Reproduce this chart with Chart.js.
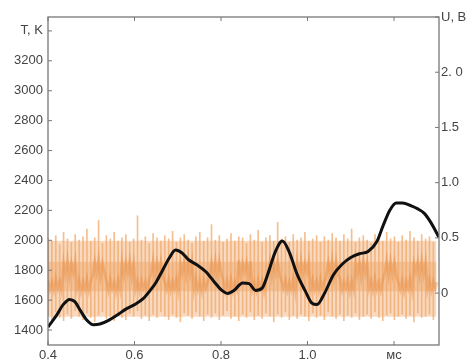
<!DOCTYPE html>
<html>
<head>
<meta charset="utf-8">
<script src="https://cdn.jsdelivr.net/npm/chart.js@4.4.1/dist/chart.umd.min.js"></script>
<style>
  html, body { margin: 0; padding: 0; background: #fff; }
  #wrap { width: 474px; height: 364px; position: relative; }
</style>
</head>
<body>
<div id="wrap"><canvas id="c" width="474" height="364"></canvas></div>
<script>
// ---- Data ----
// Temperature curve T (K) vs time (ms)
const tTime = [0.400,0.420,0.435,0.450,0.462,0.475,0.490,0.505,0.520,0.540,0.560,0.580,0.600,0.620,0.635,0.650,0.665,0.680,0.695,0.710,0.725,0.745,0.765,0.785,0.800,0.815,0.830,0.850,0.865,0.880,0.895,0.910,0.925,0.942,0.958,0.975,0.995,1.010,1.022,1.040,1.060,1.080,1.100,1.120,1.140,1.160,1.175,1.190,1.205,1.220,1.240,1.255,1.270,1.285,1.304];
const tValue = [1420,1500,1570,1605,1590,1530,1465,1435,1440,1465,1500,1540,1570,1610,1660,1720,1800,1880,1935,1915,1870,1835,1790,1720,1670,1645,1665,1715,1710,1665,1680,1790,1920,1995,1920,1780,1660,1580,1570,1650,1770,1840,1885,1910,1925,1990,2100,2200,2250,2250,2230,2210,2180,2120,2020];

// Voltage signal U (V): sampled signal, start time and sample interval (ms)
const uStart = 0.4;
const uStep = 0.0045;
// spike maxima and minima (one pair per spike, every second sample)
const uPeaks = [0.50,0.47,0.52,0.44,0.55,0.49,0.46,0.53,0.48,0.51,
 0.58,0.47,0.50,0.66,0.45,0.52,0.49,0.55,0.47,0.50,
 0.53,0.46,0.49,0.70,0.48,0.51,0.45,0.54,0.50,0.47,
 0.52,0.49,0.56,0.46,0.50,0.53,0.48,0.45,0.51,0.55,
 0.47,0.50,0.62,0.48,0.52,0.46,0.49,0.54,0.47,0.51,
 0.50,0.45,0.53,0.48,0.57,0.46,0.50,0.52,0.47,0.64,
 0.49,0.51,0.46,0.53,0.48,0.50,0.55,0.47,0.49,0.52,
 0.46,0.51,0.48,0.54,0.50,0.47,0.53,0.49,0.58,0.46,
 0.50,0.52,0.48,0.45,0.53,0.50,0.47,0.55,0.49,0.51,
 0.46,0.52,0.48,0.56,0.50,0.47,0.53,0.49,0.51,0.46];
const uDips = [-0.20,-0.24,-0.17,-0.22,-0.25,-0.19,-0.23,-0.16,-0.21,-0.24,
 -0.18,-0.22,-0.26,-0.20,-0.17,-0.23,-0.21,-0.25,-0.19,-0.22,
 -0.24,-0.18,-0.21,-0.16,-0.23,-0.20,-0.25,-0.19,-0.22,-0.17,
 -0.21,-0.24,-0.19,-0.22,-0.26,-0.18,-0.20,-0.23,-0.17,-0.21,
 -0.25,-0.19,-0.22,-0.18,-0.24,-0.20,-0.16,-0.23,-0.21,-0.25,
 -0.19,-0.22,-0.17,-0.24,-0.20,-0.23,-0.18,-0.21,-0.26,-0.19,
 -0.22,-0.17,-0.24,-0.20,-0.23,-0.19,-0.21,-0.25,-0.18,-0.22,
 -0.20,-0.24,-0.17,-0.21,-0.23,-0.19,-0.25,-0.20,-0.22,-0.18,
 -0.24,-0.21,-0.19,-0.23,-0.17,-0.22,-0.25,-0.20,-0.18,-0.24,
 -0.21,-0.19,-0.23,-0.20,-0.26,-0.18,-0.22,-0.21,-0.19,-0.24];
// core (low-amplitude) component of U, every sample
const uCore = [
 0.12,0.03,0.10,0.02,0.13,0.04,0.11,0.02, 0.28,0.17,0.30,0.15,0.27,0.18,0.29,
 0.04,0.12,0.01,0.10,0.03,0.13,0.02,0.11, 0.16,0.29,0.18,0.31,0.15,0.27,0.19,
 0.11,0.02,0.13,0.04,0.10,0.01,0.12,0.03, 0.29,0.16,0.28,0.18,0.30,0.15,0.27,
 0.03,0.11,0.02,0.12,0.04,0.10,0.01,0.13, 0.17,0.30,0.16,0.28,0.19,0.29,0.15,
 0.10,0.03,0.12,0.02,0.11,0.04,0.13,0.02, 0.27,0.18,0.29,0.16,0.31,0.17,0.28,
 0.02,0.13,0.03,0.11,0.01,0.12,0.04,0.10, 0.15,0.28,0.17,0.30,0.16,0.29,0.18,
 0.12,0.02,0.11,0.03,0.13,0.02,0.10,0.04, 0.30,0.16,0.27,0.19,0.28,0.15,0.29,
 0.03,0.10,0.02,0.12,0.04,0.11,0.01,0.13, 0.17,0.29,0.15,0.28,0.18,0.30,0.16,
 0.11,0.04,0.12,0.02,0.10,0.03,0.13,0.01, 0.28,0.16,0.30,0.17,0.27,0.19,0.29,
 0.02,0.12,0.03,0.11,0.02,0.13,0.04,0.10, 0.16,0.28,0.18,0.31,0.15,0.29,0.17,
 0.13,0.02,0.10,0.04,0.12,0.01,0.11,0.03, 0.29,0.17,0.28,0.15,0.30,0.18,0.27,
 0.04,0.11,0.02,0.13,0.03,0.10,0.02,0.12, 0.18,0.30,0.16,0.29,0.17,0.28,0.15,
 0.10,0.03,0.12,0.01,0.11,0.04,0.13,0.02, 0.27,0.19,0.29,0.16,0.30,0.17,0.28,
 0.03,0.12,0.02,0.11,0.04,0.10];
// envelope of the dense signal: [bottom, top]
const uOuterBand = [-0.21, 0.47];
const uInnerBand = [0.02, 0.28];

// Tick values and labels
const xTicks = [0.4, 0.6, 0.8, 1.0, 1.2];
const xTickLabels = ["0.4", "0.6", "0.8", "1.0", "мс"];
const tTicks = [1400, 1600, 1800, 2000, 2200, 2400, 2600, 2800, 3000, 3200, 3400];
const tTickLabels = ["1400","1600","1800","2000","2200","2400","2600","2800","3000","3200","T, K"];
const uTicks = [0, 0.5, 1.0, 1.5, 2.0, 2.5];
const uTickLabels = ["0", "0.5", "1.0", "1.5", "2. 0", "U, B"];

// ---- Build datasets ----
const tPoints = tTime.map((t, i) => ({ x: t, y: tValue[i] }));
const spikeTimes = uPeaks.map((p, i) => uStart + 2 * i * uStep);
const spikeBars = uPeaks.map((p, i) => ({ x: spikeTimes[i], y: [uDips[i], p] }));
const corePoints = uCore.map((v, i) => ({ x: uStart + i * uStep, y: v }));
const outerBars = spikeTimes.map(t => ({ x: t, y: uOuterBand.slice() }));
const innerBars = spikeTimes.map(t => ({ x: t, y: uInnerBand.slice() }));

const FONT = { family: "'Liberation Sans', Arial, sans-serif", size: 13 };
const AXIS_COLOR = '#777';
const TEXT_COLOR = '#444';

function fixTicks(list) {
  return function (scale) { scale.ticks = list.map(v => ({ value: v })); };
}

const framePlugin = {
  id: 'frame',
  afterDatasetsDraw(chart) {
    const { ctx, chartArea: a, scales } = chart;
    ctx.save();
    ctx.strokeStyle = AXIS_COLOR;
    ctx.lineWidth = 1.3;
    ctx.strokeRect(a.left, a.top, a.right - a.left, a.bottom - a.top);
    ctx.lineWidth = 1;
    const L = 4;
    ctx.beginPath();
    scales.x.ticks.forEach(t => {
      const px = scales.x.getPixelForValue(t.value);
      ctx.moveTo(px, a.bottom); ctx.lineTo(px, a.bottom - L);
      ctx.moveTo(px, a.top); ctx.lineTo(px, a.top + L);
    });
    scales.yT.ticks.forEach(t => {
      const py = scales.yT.getPixelForValue(t.value);
      ctx.moveTo(a.left, py); ctx.lineTo(a.left + L, py);
    });
    scales.yU.ticks.forEach(t => {
      const py = scales.yU.getPixelForValue(t.value);
      ctx.moveTo(a.right, py); ctx.lineTo(a.right - L, py);
    });
    ctx.stroke();
    ctx.restore();
  }
};

new Chart(document.getElementById('c'), {
  type: 'line',
  data: {
    datasets: [
      {
        label: 'T',
        data: tPoints,
        yAxisID: 'yT',
        borderColor: '#111',
        borderWidth: 3,
        pointRadius: 0,
        cubicInterpolationMode: 'monotone',
        order: 0
      },
      {
        label: 'U core',
        data: corePoints,
        yAxisID: 'yU',
        borderColor: 'rgba(228,130,50,0.35)',
        borderWidth: 2.6,
        pointRadius: 0,
        tension: 0,
        order: 1
      },
      {
        type: 'bar',
        label: 'U',
        data: spikeBars,
        yAxisID: 'yU',
        backgroundColor: 'rgba(240,168,105,0.75)',
        borderWidth: 0,
        barThickness: 1,
        grouped: false,
        order: 2
      },
      {
        type: 'bar',
        label: 'inner band',
        data: innerBars,
        yAxisID: 'yU',
        backgroundColor: 'rgb(243,194,152)',
        borderWidth: 0,
        barThickness: 5,
        grouped: false,
        order: 3
      },
      {
        type: 'bar',
        label: 'outer band',
        data: outerBars,
        yAxisID: 'yU',
        backgroundColor: 'rgb(249,218,192)',
        borderWidth: 0,
        barThickness: 5,
        grouped: false,
        order: 4
      }
    ]
  },
  options: {
    responsive: false,
    animation: false,
    events: [],
    layout: { padding: { top: 17, left: 0, right: 0, bottom: 0 } },
    plugins: { legend: { display: false }, tooltip: { enabled: false } },
    scales: {
      x: {
        type: 'linear',
        min: 0.4,
        max: 1.304,
        offset: false,
        afterBuildTicks: fixTicks(xTicks),
        afterFit(s) { s.height = 19; },
        grid: { display: false, drawTicks: false, tickLength: 0 },
        border: { display: false },
        ticks: {
          font: FONT, color: TEXT_COLOR, padding: 3,
          maxRotation: 0, autoSkip: false,
          callback: (v, i) => xTickLabels[i]
        }
      },
      yT: {
        type: 'linear',
        position: 'left',
        min: 1300,
        max: 3493,
        afterBuildTicks: fixTicks(tTicks),
        afterFit(s) { s.width = 48; },
        grid: { display: false, drawTicks: false, tickLength: 0 },
        border: { display: false },
        ticks: {
          font: FONT, color: TEXT_COLOR, padding: 5, autoSkip: false,
          callback: (v, i) => tTickLabels[i]
        }
      },
      yU: {
        type: 'linear',
        position: 'right',
        min: -0.47,
        max: 2.5,
        afterBuildTicks: fixTicks(uTicks),
        afterFit(s) { s.width = 35; },
        grid: { display: false, drawTicks: false, tickLength: 0 },
        border: { display: false },
        ticks: {
          font: FONT, color: TEXT_COLOR, padding: 2, autoSkip: false,
          callback: (v, i) => uTickLabels[i]
        }
      }
    }
  },
  plugins: [framePlugin]
});
</script>
</body>
</html>
